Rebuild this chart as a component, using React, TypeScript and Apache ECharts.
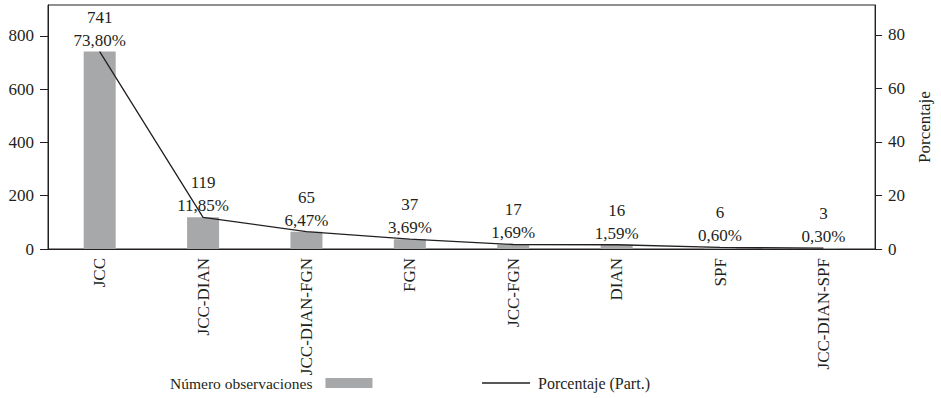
import React, { useEffect, useRef } from "react";
import * as echarts from "echarts";

const categories = ["JCC", "JCC-DIAN", "JCC-DIAN-FGN", "FGN", "JCC-FGN", "DIAN", "SPF", "JCC-DIAN-SPF"];
const counts = [741, 119, 65, 37, 17, 16, 6, 3];
const shares = [73.8, 11.85, 6.47, 3.69, 1.69, 1.59, 0.6, 0.3];
const countTicks = [0, 200, 400, 600, 800];
const shareTicks = [0, 20, 40, 60, 80];

const FONT = "Liberation Serif, Times New Roman, serif";
const INK = "#231f20";
const BAR_GREY = "#a7a8aa";

const pctText = (v: number) => v.toFixed(2).replace(".", ",") + "%";

export default function App() {
  const ref = useRef<HTMLDivElement>(null);

  useEffect(() => {
    if (!ref.current) return;
    const chart = echarts.init(ref.current, undefined, { renderer: "svg" });
    chart.setOption({
      animation: false,
      backgroundColor: "#ffffff",
      textStyle: { fontFamily: FONT, color: INK },
      grid: {
        left: 48,
        right: 55,
        top: 5,
        bottom: 149,
        show: true,
        borderColor: INK,
        borderWidth: 1,
      },
      legend: [
        {
          left: 170,
          top: 375,
          padding: 0,
          align: "right",
          data: ["Número observaciones"],
          icon: "rect",
          itemWidth: 47,
          itemHeight: 10,
          textStyle: { fontFamily: FONT, fontSize: 15.5, color: INK, padding: [0, 8, 0, 0] },
        },
        {
          left: 482,
          top: 375,
          padding: 0,
          data: ["Porcentaje (Part.)"],
          icon: "rect",
          itemWidth: 48,
          itemHeight: 1.5,
          textStyle: { fontFamily: FONT, fontSize: 16, color: INK, padding: [0, 0, 0, 3] },
        },
      ],
      xAxis: {
        type: "category",
        data: categories,
        axisLine: { lineStyle: { color: INK, width: 1 } },
        axisTick: { show: false },
        axisLabel: {
          rotate: 90,
          margin: 9,
          fontFamily: FONT,
          fontSize: 17,
          color: INK,
        },
      },
      yAxis: [
        {
          type: "value",
          min: 0,
          max: 916,
          interval: 200,
          splitLine: { show: false },
          axisLine: { show: true, lineStyle: { color: INK, width: 1 } },
          axisTick: { show: true, length: 8, lineStyle: { color: INK }, customValues: countTicks },
          axisLabel: {
            margin: 14,
            fontFamily: FONT,
            fontSize: 17,
            color: INK,
            customValues: countTicks,
          },
        },
        {
          type: "value",
          min: 0,
          max: 91.2,
          interval: 20,
          position: "right",
          name: "Porcentaje",
          nameLocation: "middle",
          nameRotate: 90,
          nameGap: 40,
          nameTextStyle: { fontFamily: FONT, fontSize: 17, color: INK },
          splitLine: { show: false },
          axisLine: { show: true, lineStyle: { color: INK, width: 1 } },
          axisTick: { show: true, length: 7, lineStyle: { color: INK }, customValues: shareTicks },
          axisLabel: {
            margin: 13,
            fontFamily: FONT,
            fontSize: 17,
            color: INK,
            customValues: shareTicks,
          },
        },
      ],
      series: [
        {
          name: "Número observaciones",
          type: "bar",
          yAxisIndex: 0,
          data: counts,
          barWidth: 32,
          itemStyle: { color: BAR_GREY },
          label: {
            show: true,
            position: "top",
            distance: 26,
            fontFamily: FONT,
            fontSize: 17,
            color: INK,
          },
        },
        {
          name: "Porcentaje (Part.)",
          type: "line",
          yAxisIndex: 1,
          data: shares,
          symbol: "circle",
          symbolSize: 0.1,
          showSymbol: true,
          itemStyle: { color: INK },
          lineStyle: { color: INK, width: 1.3 },
          label: {
            show: true,
            position: "top",
            distance: 3,
            fontFamily: FONT,
            fontSize: 17,
            color: INK,
            formatter: (p: any) => pctText(p.value),
          },
          z: 3,
        },
      ],
    });
    return () => chart.dispose();
  }, []);

  return (
    <div
      ref={ref}
      style={{ position: "fixed", left: 0, top: 0, width: 941, height: 398, background: "#fff" }}
    />
  );
}
